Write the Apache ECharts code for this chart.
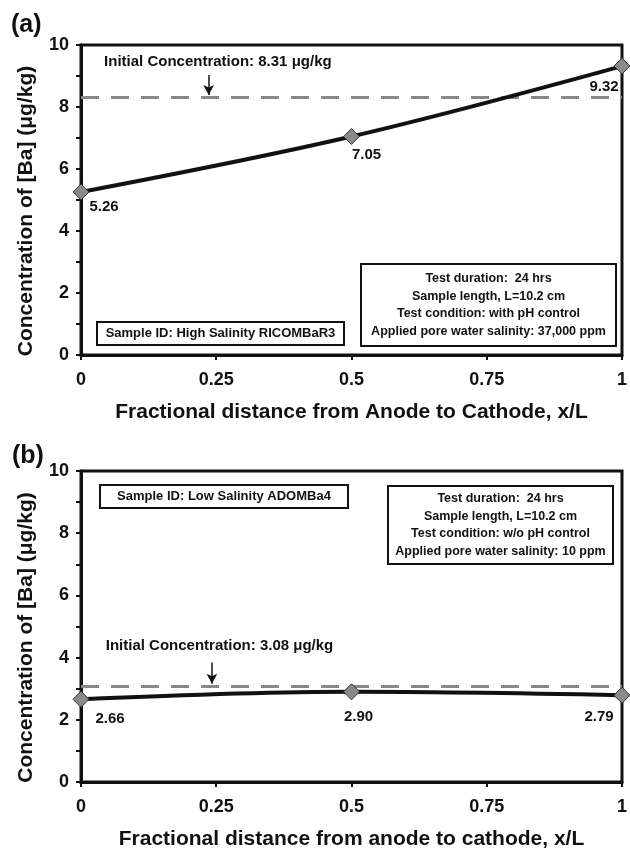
<!DOCTYPE html>
<html>
<head>
<meta charset="utf-8">
<script src="https://cdn.jsdelivr.net/npm/echarts@6/dist/echarts.min.js"></script>
<style>
  html, body { margin: 0; padding: 0; background: #fff; }
  #chart { width: 630px; height: 851px; }
</style>
</head>
<body>
<div id="chart"></div>
<script>
// values
const xPos = [0, 0.5, 1];
const baHigh = [5.26, 7.05, 9.32];   // (a) high salinity RICOMBaR3
const baLow = [2.66, 2.90, 2.79];    // (b) low salinity ADOMBa4
const initHigh = 8.31;
const initLow = 3.08;

const FONT = 'Liberation Sans, Arial, sans-serif';
const INK = '#111';

// label offsets for each point label, [dx, dy]
const offsA = [[23, 15], [15, 18], [-18, 21]];
const offsB = [[29, 20], [7, 25], [-23, 22]];

function points (vals, offs) {
  return vals.map((v, i) => ({
    value: [xPos[i], v],
    label: { offset: offs[i] }
  }));
}

function yAxis (gridIndex) {
  return {
    gridIndex,
    type: 'value',
    min: 0,
    max: 10,
    interval: 2,
    name: 'Concentration of [Ba] (μg/kg)',
    nameLocation: 'middle',
    nameGap: 44,
    nameTextStyle: {
      fontFamily: FONT, fontWeight: 'bold', fontSize: 21, color: INK,
      padding: [0, 22, 0, 0]
    },
    axisLine: { show: true, lineStyle: { color: INK, width: 3 } },
    axisTick: { show: true, length: 5, lineStyle: { color: INK, width: 2 } },
    minorTick: { show: true, splitNumber: 2, length: 5, lineStyle: { color: INK, width: 2 } },
    splitLine: { show: false },
    axisLabel: { fontFamily: FONT, fontWeight: 'bold', fontSize: 18, color: INK, margin: 12 }
  };
}

function xAxis (gridIndex, title) {
  return {
    gridIndex,
    type: 'value',
    min: 0,
    max: 1,
    interval: 0.25,
    name: title,
    nameLocation: 'middle',
    nameGap: 47,
    nameTextStyle: { fontFamily: FONT, fontWeight: 'bold', fontSize: 21, color: INK },
    axisLine: { show: true, onZero: false, lineStyle: { color: INK, width: 3 } },
    axisTick: { show: true, length: 5, lineStyle: { color: INK, width: 2 } },
    splitLine: { show: false },
    axisLabel: { fontFamily: FONT, fontWeight: 'bold', fontSize: 18, color: INK, margin: 16 }
  };
}

function series (idx, vals, offs, init, arrowX, arrowTop, textX, textY) {
  return {
    type: 'line',
    xAxisIndex: idx,
    yAxisIndex: idx,
    data: points(vals, offs),
    smooth: 0.35,
    symbol: 'diamond',
    symbolSize: 16,
    itemStyle: { color: '#8a8a8a', borderColor: '#333', borderWidth: 1 },
    lineStyle: { color: INK, width: 4 },
    z: 5,
    label: {
      show: true,
      position: 'inside',
      fontFamily: FONT,
      fontWeight: 'bold',
      fontSize: 15,
      color: INK,
      formatter: p => p.value[1].toFixed(2)
    },
    markLine: {
      silent: true,
      z: 3,
      label: { show: false },
      data: [
        [
          { coord: [0, init], symbol: 'none', lineStyle: { type: [18, 12], color: '#888', width: 3 } },
          { coord: [1, init], symbol: 'none' }
        ],
        [
          { coord: [arrowX, arrowTop], symbol: 'none', lineStyle: { type: 'solid', color: INK, width: 1.5 } },
          { coord: [arrowX, init + 0.08], symbol: 'arrow', symbolSize: [8, 10] }
        ]
      ]
    },
    markPoint: {
      silent: true,
      symbol: 'circle',
      symbolSize: 0,
      data: [{
        coord: [textX, textY],
        label: {
          show: true,
          position: 'inside',
          fontFamily: FONT,
          fontWeight: 'bold',
          fontSize: 15,
          color: INK,
          formatter: 'Initial Concentration: ' + init.toFixed(2) + ' μg/kg'
        }
      }]
    }
  };
}

function textBox (x, y, w, h, lines, fontSize, lineH) {
  const children = [{
    type: 'rect',
    shape: { x, y, width: w, height: h },
    style: { fill: '#fff', stroke: INK, lineWidth: 2 }
  }];
  const top = y + h / 2 - (lines.length - 1) * lineH / 2;
  lines.forEach((t, i) => {
    children.push({
      type: 'text',
      x: x + w / 2,
      y: top + i * lineH,
      style: {
        text: t,
        fontFamily: FONT,
        fontWeight: 'bold',
        fontSize,
        fill: INK,
        align: 'center',
        verticalAlign: 'middle'
      }
    });
  });
  return { type: 'group', z: 10, children };
}

const chart = echarts.init(document.getElementById('chart'));

chart.setOption({
  backgroundColor: '#fff',
  animation: false,
  grid: [
    { left: 81, top: 45, width: 542, height: 310, show: true, borderColor: INK, borderWidth: 3, backgroundColor: 'transparent' },
    { left: 81, top: 471, width: 542, height: 315, show: true, borderColor: INK, borderWidth: 3, backgroundColor: 'transparent' }
  ],
  xAxis: [
    xAxis(0, 'Fractional distance from Anode to Cathode, x/L'),
    xAxis(1, 'Fractional distance from anode to cathode, x/L')
  ],
  yAxis: [yAxis(0), yAxis(1)],
  series: [
    series(0, baHigh, offsA, initHigh, 0.236, 9.03, 0.253, 9.45),
    series(1, baLow, offsB, initLow, 0.242, 3.84, 0.256, 4.38)
  ],
  graphic: [
    { type: 'text', left: 11, top: 13, style: { text: '(a)', fontFamily: FONT, fontWeight: 'bold', fontSize: 25, fill: INK } },
    { type: 'text', left: 12, top: 444, style: { text: '(b)', fontFamily: FONT, fontWeight: 'bold', fontSize: 25, fill: INK } },
    textBox(97, 322, 247, 23, ['Sample ID: High Salinity RICOMBaR3'], 13, 17),
    textBox(361, 264, 255, 82, [
      'Test duration:  24 hrs',
      'Sample length, L=10.2 cm',
      'Test condition: with pH control',
      'Applied pore water salinity: 37,000 ppm'
    ], 12.5, 17.5),
    textBox(100, 485, 248, 23, ['Sample ID: Low Salinity ADOMBa4'], 13, 17),
    textBox(388, 486, 225, 78, [
      'Test duration:  24 hrs',
      'Sample length, L=10.2 cm',
      'Test condition: w/o pH control',
      'Applied pore water salinity: 10 ppm'
    ], 12.5, 17.5)
  ]
});
</script>
</body>
</html>
